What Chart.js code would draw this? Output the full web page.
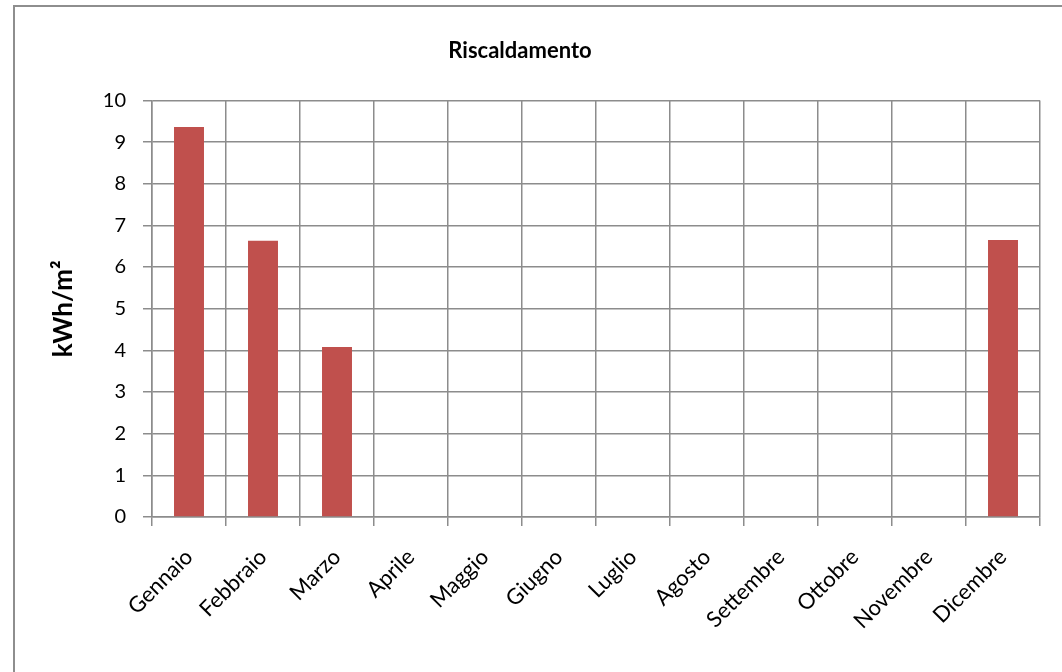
<!DOCTYPE html>
<html>
<head>
<meta charset="utf-8">
<script src="https://cdn.jsdelivr.net/npm/chart.js@4"></script>
<style>
  body { margin: 0; background: #fff; }
  #wrap { width: 1062px; height: 672px; position: relative; }
</style>
</head>
<body>
<div id="wrap"><canvas id="grafico"></canvas></div>
<script>
const mesi = ["Gennaio", "Febbraio", "Marzo", "Aprile", "Maggio", "Giugno",
  "Luglio", "Agosto", "Settembre", "Ottobre", "Novembre", "Dicembre"];
const riscaldamento = [9.36, 6.63, 4.08, 0, 0, 0, 0, 0, 0, 0, 0, 6.65];
const tickY = [0, 1, 2, 3, 4, 5, 6, 7, 8, 9, 10];

const font = "Lato, 'Open Sans', sans-serif";
const grigio = "#8c8c8c";

// cornice in alto e a sinistra
const cornice = {
  id: "cornice",
  beforeDraw(chart) {
    const c = chart.ctx;
    c.save();
    c.strokeStyle = "#8e8e8e";
    c.lineWidth = 2;
    c.beginPath();
    c.moveTo(14, 700);
    c.lineTo(14, 6);
    c.lineTo(1100, 6);
    c.stroke();
    c.restore();
  },
};

new Chart(document.getElementById("grafico"), {
  type: "bar",
  data: {
    labels: mesi,
    datasets: [{
      label: "Riscaldamento",
      data: riscaldamento,
      backgroundColor: "#C0504D",
      categoryPercentage: 1,
      barPercentage: 0.405,
    }],
  },
  options: {
    responsive: true,
    maintainAspectRatio: false,
    animation: false,
    layout: { padding: { left: 0, right: 22, top: 0, bottom: 0 } },
    plugins: {
      legend: { display: false },
      tooltip: { enabled: false },
      title: {
        display: true,
        text: "Riscaldamento",
        color: "#000",
        font: { family: font, size: 22, weight: "bold", lineHeight: 1.2 },
        padding: { top: 38, bottom: 36 },
      },
    },
    scales: {
      x: {
        grid: { color: grigio, lineWidth: 1.5, tickLength: 9, offset: true },
        border: { color: grigio, width: 1.5 },
        ticks: {
          autoSkip: false,
          maxRotation: 45,
          minRotation: 45,
          color: "#000",
          padding: 18,
          font: { family: font, size: 22 },
        },
        afterFit(scale) { scale.height = 155; },
      },
      y: {
        min: 0,
        max: 10,
        afterBuildTicks(scale) { scale.ticks = tickY.map((v) => ({ value: v })); },
        grid: { color: grigio, lineWidth: 1.5, tickLength: 9 },
        border: { color: grigio, width: 1.5 },
        ticks: {
          color: "#000",
          padding: 17,
          font: { family: font, size: 20 },
        },
        title: {
          display: true,
          text: "kWh/m²",
          color: "#000",
          font: { family: font, size: 26, weight: "bold", lineHeight: 1.2 },
          padding: { top: 48, bottom: 0 },
        },
        afterFit(scale) { scale.width = 152; },
      },
    },
  },
  plugins: [cornice],
});
</script>
</body>
</html>
